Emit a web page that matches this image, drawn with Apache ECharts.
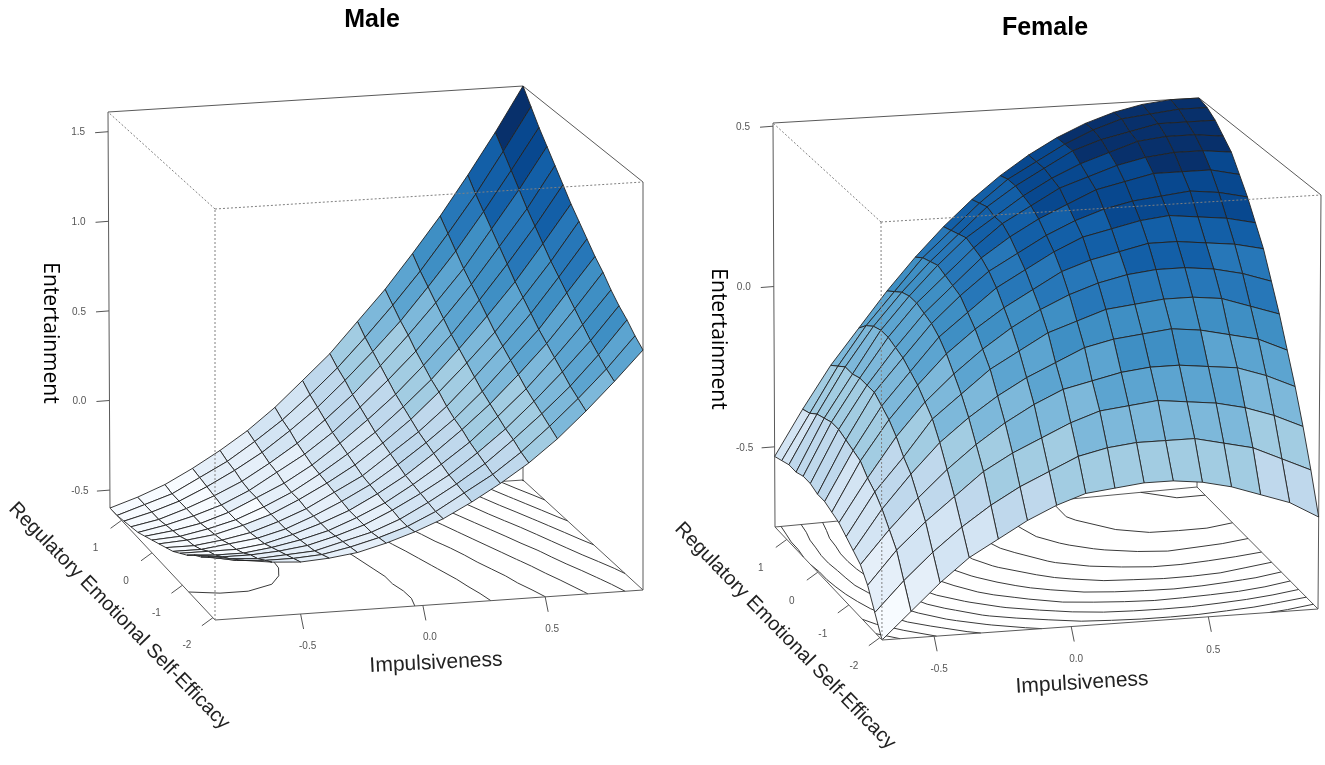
<!DOCTYPE html>
<html><head><meta charset="utf-8">
<script src="https://cdn.jsdelivr.net/npm/echarts@6/dist/echarts.min.js"></script>
<style>html,body{margin:0;padding:0;overflow:hidden;background:#fff}#chart{width:1325px;height:765px}</style>
</head><body><div id="chart"></div>
<script>
// ---------------- DATA ----------------
const impMale = [-0.850,-0.733,-0.617,-0.500,-0.383,-0.267,-0.150,-0.033,0.083,0.200,0.317,0.433,0.550,0.667,0.783,0.900];
const impFemale = [-0.690,-0.584,-0.478,-0.372,-0.266,-0.160,-0.054,0.052,0.158,0.264,0.370,0.476,0.582,0.688,0.794,0.900];
const regse = [-2.07,-1.84,-1.61,-1.38,-1.15,-0.92,-0.69,-0.46,-0.23,0.00,0.23,0.46,0.69,0.92,1.15,1.38];

// Entertainment, rows = regse values, columns = impulsiveness values
const entMale = [
[-0.26,-0.29,-0.31,-0.32,-0.31,-0.29,-0.25,-0.20,-0.14,-0.06,0.03,0.13,0.25,0.39,0.54,0.70],
[-0.30,-0.33,-0.34,-0.34,-0.33,-0.30,-0.26,-0.21,-0.14,-0.05,0.04,0.15,0.28,0.42,0.57,0.74],
[-0.34,-0.36,-0.37,-0.36,-0.35,-0.31,-0.27,-0.21,-0.13,-0.04,0.06,0.18,0.31,0.45,0.61,0.79],
[-0.37,-0.39,-0.39,-0.38,-0.36,-0.32,-0.27,-0.20,-0.12,-0.03,0.08,0.20,0.34,0.49,0.65,0.83],
[-0.41,-0.42,-0.42,-0.40,-0.37,-0.33,-0.27,-0.20,-0.11,-0.01,0.10,0.23,0.37,0.53,0.70,0.88],
[-0.44,-0.44,-0.44,-0.42,-0.38,-0.33,-0.27,-0.19,-0.10,0.01,0.13,0.26,0.41,0.57,0.75,0.94],
[-0.47,-0.47,-0.45,-0.43,-0.39,-0.33,-0.26,-0.18,-0.08,0.03,0.15,0.29,0.45,0.61,0.80,0.99],
[-0.49,-0.49,-0.47,-0.44,-0.39,-0.33,-0.25,-0.17,-0.06,0.05,0.18,0.33,0.49,0.66,0.85,1.05],
[-0.51,-0.50,-0.48,-0.44,-0.39,-0.32,-0.24,-0.15,-0.04,0.08,0.22,0.37,0.53,0.71,0.90,1.11],
[-0.53,-0.52,-0.49,-0.45,-0.39,-0.32,-0.23,-0.13,-0.02,0.11,0.25,0.41,0.58,0.76,0.96,1.17],
[-0.55,-0.53,-0.50,-0.45,-0.38,-0.31,-0.22,-0.11,0.01,0.14,0.29,0.45,0.63,0.82,1.02,1.24],
[-0.57,-0.54,-0.50,-0.45,-0.38,-0.29,-0.20,-0.09,0.04,0.18,0.33,0.50,0.68,0.88,1.08,1.31],
[-0.58,-0.55,-0.50,-0.44,-0.37,-0.28,-0.18,-0.06,0.07,0.22,0.38,0.55,0.73,0.94,1.15,1.38],
[-0.59,-0.55,-0.50,-0.43,-0.35,-0.26,-0.15,-0.03,0.11,0.26,0.42,0.60,0.79,1.00,1.22,1.45],
[-0.60,-0.55,-0.50,-0.42,-0.34,-0.24,-0.13,0.00,0.14,0.30,0.47,0.65,0.85,1.06,1.29,1.53],
[-0.60,-0.55,-0.49,-0.41,-0.32,-0.22,-0.10,0.04,0.18,0.35,0.52,0.71,0.91,1.13,1.36,1.61]
];
const entFemale = [
[-0.75,-0.67,-0.59,-0.52,-0.47,-0.42,-0.38,-0.35,-0.34,-0.33,-0.33,-0.34,-0.36,-0.39,-0.42,-0.47],
[-0.69,-0.60,-0.52,-0.45,-0.39,-0.34,-0.30,-0.26,-0.24,-0.23,-0.23,-0.23,-0.25,-0.27,-0.31,-0.35],
[-0.63,-0.53,-0.45,-0.38,-0.31,-0.26,-0.22,-0.18,-0.15,-0.14,-0.13,-0.14,-0.15,-0.17,-0.20,-0.24],
[-0.59,-0.49,-0.40,-0.32,-0.25,-0.19,-0.14,-0.10,-0.08,-0.06,-0.05,-0.05,-0.06,-0.07,-0.10,-0.14],
[-0.57,-0.45,-0.35,-0.26,-0.19,-0.13,-0.08,-0.04,0.00,0.02,0.03,0.04,0.03,0.01,-0.01,-0.05],
[-0.55,-0.42,-0.32,-0.21,-0.14,-0.07,-0.02,0.03,0.06,0.09,0.10,0.11,0.11,0.10,0.07,0.04],
[-0.53,-0.40,-0.28,-0.18,-0.10,-0.03,0.03,0.08,0.12,0.15,0.17,0.18,0.18,0.17,0.15,0.12],
[-0.52,-0.37,-0.25,-0.15,-0.06,0.01,0.07,0.12,0.17,0.20,0.22,0.24,0.24,0.23,0.22,0.20],
[-0.51,-0.36,-0.23,-0.13,-0.03,0.04,0.11,0.16,0.21,0.25,0.27,0.29,0.30,0.29,0.28,0.26],
[-0.51,-0.35,-0.21,-0.11,-0.01,0.07,0.14,0.19,0.24,0.28,0.31,0.33,0.34,0.35,0.34,0.32],
[-0.50,-0.34,-0.21,-0.10,0.00,0.08,0.16,0.22,0.27,0.31,0.35,0.37,0.39,0.39,0.39,0.37],
[-0.50,-0.34,-0.21,-0.09,0.01,0.09,0.17,0.24,0.29,0.34,0.37,0.40,0.42,0.43,0.43,0.42],
[-0.51,-0.35,-0.22,-0.09,0.01,0.10,0.18,0.24,0.30,0.35,0.39,0.42,0.45,0.46,0.46,0.45],
[-0.51,-0.36,-0.22,-0.10,0.00,0.09,0.17,0.25,0.31,0.36,0.41,0.44,0.46,0.48,0.48,0.48],
[-0.52,-0.38,-0.24,-0.12,-0.02,0.08,0.16,0.24,0.31,0.36,0.41,0.45,0.48,0.49,0.50,0.50],
[-0.53,-0.39,-0.26,-0.15,-0.04,0.06,0.15,0.23,0.30,0.36,0.41,0.45,0.48,0.50,0.51,0.51]
];

const zTicksMale = [-0.5, 0.0, 0.5, 1.0, 1.5];
const zTicksFemale = [-0.5, 0.0, 0.5];
const impTicks = [-0.5, 0.0, 0.5];
const regseTicks = [-2, -1, 0, 1];
const contourLevelsMale = [-0.4,-0.2,0.0,0.2,0.4,0.6,0.8,1.0,1.2,1.4,1.6];
const contourLevelsFemale = [-0.7,-0.6,-0.5,-0.4,-0.3,-0.2,-0.1,0.0,0.1,0.2,0.3,0.4,0.5];
const titles = ['Male', 'Female'];

// ---------------- STYLE / LAYOUT ----------------
const bluePalette = ['#F7FBFF','#E5EFF9','#D3E4F3','#BFD8EC','#A2CCE2','#7DB8DA','#5CA4D0','#3F8FC4','#2777B8','#135FA7','#08488F','#08306B'];
const layoutMale = {
  box: {N:[215,620,215,209], R:[643,590,643,182], L:[110,508,108,112], F:[523,480,523,86]},
  title:[372,20], ent:[50,333], imp:[436,663,0.05], reg:[119,616,-0.80],
  impLab:[7,32], regLab:[-26,28]
};
const layoutFemale = {
  box: {N:[882,640,881,222], R:[1318,609,1321,195], L:[775,527,773,123], F:[1197,487,1199,98]},
  title:[1045,28], ent:[718,339], imp:[1082,683,0.06], reg:[785,636,-0.80],
  impLab:[5,33], regLab:[-26,29]
};

function makePanel(name, imp, reg, z, zTicks, levels, lay) {
  let zmin = Infinity, zmax = -Infinity;
  z.forEach(r => r.forEach(v => { zmin = Math.min(zmin, v); zmax = Math.max(zmax, v); }));
  return {name, imp, reg, z, zTicks, levels, lay,
    x0: imp[0], x1: imp[imp.length-1], y0: reg[0], y1: reg[reg.length-1], z0: zmin, z1: zmax};
}
const panels = [
  makePanel(titles[0], impMale, regse, entMale, zTicksMale, contourLevelsMale, layoutMale),
  makePanel(titles[1], impFemale, regse, entFemale, zTicksFemale, contourLevelsFemale, layoutFemale)
];

function projUVW(p, u, v, w) {
  const b = p.lay.box;
  const c = k => [b[k][0] + w*(b[k][2]-b[k][0]), b[k][1] + w*(b[k][3]-b[k][1])];
  const n = c('N'), r = c('R'), l = c('L'), f = c('F');
  const a0 = (1-u)*(1-v), a1 = u*(1-v), a2 = (1-u)*v, a3 = u*v;
  return [a0*n[0]+a1*r[0]+a2*l[0]+a3*f[0], a0*n[1]+a1*r[1]+a2*l[1]+a3*f[1]];
}
function proj(p, X, Y, Z) {
  return projUVW(p, (X-p.x0)/(p.x1-p.x0), (Y-p.y0)/(p.y1-p.y0), (Z-p.z0)/(p.z1-p.z0));
}

function facetData(p) {
  const out = [], nx = p.imp.length, ny = p.reg.length;
  for (let j = 0; j < ny-1; j++) for (let i = 0; i < nx-1; i++) {
    const zm = (p.z[j][i] + p.z[j][i+1] + p.z[j+1][i] + p.z[j+1][i+1]) / 4;
    const far = 0.245*(i+0.5)/(nx-1) + (j+0.5)/(ny-1);
    out.push({v:[i, j, zm], far});
  }
  out.sort((a, b) => b.far - a.far);
  return out.map(o => o.v);
}

function contourSegments(p) {
  const segs = [], nx = p.imp.length, ny = p.reg.length;
  p.levels.forEach(L => {
    if (L <= p.z0 || L >= p.z1) return;
    for (let j = 0; j < ny-1; j++) for (let i = 0; i < nx-1; i++) {
      const c = [[i,j],[i+1,j],[i+1,j+1],[i,j+1]];
      const pts = [];
      for (let e = 0; e < 4; e++) {
        const a = c[e], b = c[(e+1)%4];
        const za = p.z[a[1]][a[0]], zb = p.z[b[1]][b[0]];
        if ((za < L && zb >= L) || (za >= L && zb < L)) {
          const t = (L - za) / (zb - za);
          pts.push([p.imp[a[0]] + t*(p.imp[b[0]]-p.imp[a[0]]), p.reg[a[1]] + t*(p.reg[b[1]]-p.reg[a[1]])]);
        }
      }
      if (pts.length === 2) segs.push([pts[0], pts[1]]);
      else if (pts.length === 4) { segs.push([pts[0], pts[1]]); segs.push([pts[2], pts[3]]); }
    }
  });
  return segs;
}

function seg(api, a, b, style) {
  const p1 = api.coord(a), p2 = api.coord(b);
  return {type:'line', shape:{x1:p1[0], y1:p1[1], x2:p2[0], y2:p2[1]}, style};
}
function txt(api, pos, text, font, fill, rot, align) {
  const q = api.coord(pos);
  return {type:'text', x:q[0], y:q[1], rotation: rot || 0,
    style:{text, font, fill, align: align || 'center', verticalAlign:'middle', textAlign: align || 'center', textVerticalAlign:'middle'}};
}
const corner = (p, k, top) => projUVW(p, (k==='R'||k==='F')?1:0, (k==='L'||k==='F')?1:0, top?1:0);
const add = (a, d) => [a[0]+d[0], a[1]+d[1]];

const solid = {stroke:'#5a5a5a', lineWidth:1};
const dotted = {stroke:'#808080', lineWidth:1, lineDash:[2,2]};
const contourStyle = {stroke:'#3a3a3a', lineWidth:1};
const tickFont = '10px "Liberation Sans", Arial, sans-serif';
const tickColor = '#555';

function renderBack(params, api) {
  const p = panels[api.value(0)];
  const ch = [];
  [['L','F'],['F','R']].forEach(([a,b]) => {
    ch.push(seg(api, corner(p,a,0), corner(p,b,0), solid));
    ch.push(seg(api, corner(p,a,1), corner(p,b,1), solid));
  });
  ['L','F','R'].forEach(k => ch.push(seg(api, corner(p,k,0), corner(p,k,1), solid)));
  contourSegments(p).forEach(s => ch.push(seg(api, proj(p, s[0][0], s[0][1], p.z0), proj(p, s[1][0], s[1][1], p.z0), contourStyle)));
  return {type:'group', children: ch};
}

function renderFront(params, api) {
  const p = panels[api.value(0)];
  const lay = p.lay;
  const ch = [];
  ch.push(seg(api, corner(p,'N',0), corner(p,'L',0), solid));
  ch.push(seg(api, corner(p,'N',0), corner(p,'R',0), solid));
  ch.push(seg(api, corner(p,'N',0), corner(p,'N',1), dotted));
  ch.push(seg(api, corner(p,'N',1), corner(p,'L',1), dotted));
  ch.push(seg(api, corner(p,'N',1), corner(p,'R',1), dotted));
  const tickStyle = {stroke:'#555', lineWidth:1};
  p.zTicks.forEach(t => {
    const P = proj(p, p.x0, p.y1, t);
    ch.push(seg(api, P, add(P,[-13,1]), tickStyle));
    ch.push(txt(api, add(P,[-30,1]), t.toFixed(1), tickFont, tickColor));
  });
  impTicks.forEach(t => {
    const P = proj(p, t, p.y0, p.z0);
    ch.push(seg(api, P, add(P,[3,15]), tickStyle));
    ch.push(txt(api, add(P, lay.impLab), t.toFixed(1), tickFont, tickColor));
  });
  regseTicks.forEach(t => {
    const P = proj(p, p.x0, t, p.z0);
    ch.push(seg(api, P, add(P,[-11,8]), tickStyle));
    ch.push(txt(api, add(P, lay.regLab), String(t), tickFont, tickColor));
  });
  ch.push(txt(api, lay.title, p.name, 'bold 25px "Liberation Sans", Arial, sans-serif', '#000'));
  ch.push(txt(api, lay.ent, 'Entertainment', '21px "Open Sans", "Noto Sans", sans-serif', '#000', -Math.PI/2));
  ch.push(txt(api, [lay.imp[0], lay.imp[1]], 'Impulsiveness', '21px "Liberation Sans", Arial, sans-serif', '#222', lay.imp[2]));
  ch.push(txt(api, [lay.reg[0], lay.reg[1]], 'Regulatory Emotional Self-Efficacy', '20px "Liberation Sans", Arial, sans-serif', '#222', lay.reg[2]));
  return {type:'group', children: ch};
}

function surfaceRenderer(k) {
  return function (params, api) {
    const p = panels[k];
    const i = api.value(0), j = api.value(1);
    const pts = [[i,j],[i+1,j],[i+1,j+1],[i,j+1]].map(([a,b]) => api.coord(proj(p, p.imp[a], p.reg[b], p.z[b][a])));
    return {type:'polygon', shape:{points: pts},
      style:{fill: api.visual('color'), stroke:'#222', lineWidth:0.9, lineJoin:'round'}};
  };
}

const chart = echarts.init(document.getElementById('chart'), null, {renderer:'canvas'});
chart.setOption({
  animation: false,
  backgroundColor: '#fff',
  grid: {left:0, top:0, right:0, bottom:0},
  xAxis: {type:'value', min:0, max:1325, show:false},
  yAxis: {type:'value', min:0, max:765, inverse:true, show:false},
  visualMap: panels.map((p, k) => ({
    type:'piecewise', show:false, seriesIndex: k + 1, dimension: 2,
    min: p.z0, max: p.z1, splitNumber: bluePalette.length,
    inRange: {color: bluePalette}
  })),
  series: [
    {type:'custom', coordinateSystem:'cartesian2d', z:1, silent:true, renderItem: renderBack, data: [[0,0],[1,0]]},
    {type:'custom', coordinateSystem:'cartesian2d', z:2, silent:true, renderItem: surfaceRenderer(0), data: facetData(panels[0])},
    {type:'custom', coordinateSystem:'cartesian2d', z:2, silent:true, renderItem: surfaceRenderer(1), data: facetData(panels[1])},
    {type:'custom', coordinateSystem:'cartesian2d', z:3, silent:true, renderItem: renderFront, data: [[0,0],[1,0]]}
  ]
});
</script>
</body></html>
